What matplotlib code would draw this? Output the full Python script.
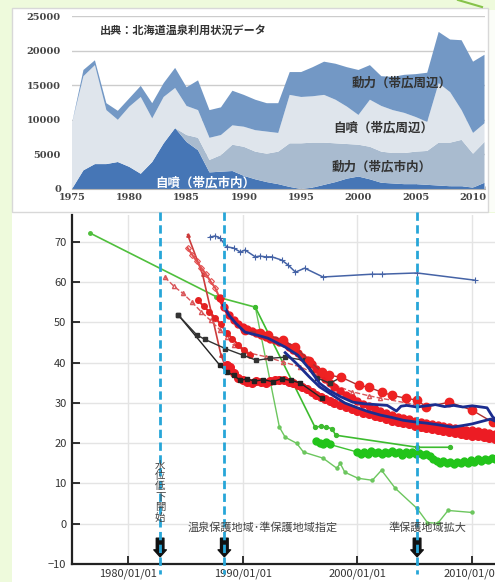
import matplotlib
matplotlib.use('Agg')
import matplotlib.pyplot as plt
from matplotlib.patches import Rectangle
from matplotlib.lines import Line2D

# +------------------------------+
# | Hot spring usage (top chart) |
# +------------------------------+
years = list(range(1975, 2012))
# 自噴（帯広市内）
jifun_city = [0, 2700, 3600, 3600, 3900, 3200, 2200, 3900, 6600, 8800,
              6800, 5600, 2400, 2500, 2600, 1900, 1400, 1000, 700, 300,
              0, 200, 600, 1000, 1500, 1800, 1400, 900, 800, 700,
              700, 600, 500, 400, 400, 200, 900]
# 動力（帯広市内）
douryoku_city = [0, 0, 0, 0, 0, 0, 0, 0, 0, 0,
                 1000, 1800, 1800, 2400, 3800, 4200, 4000, 4100, 4700, 6300,
                 6600, 6500, 6100, 5600, 5000, 4600, 4700, 4500, 4400, 4500,
                 4700, 4900, 6200, 6300, 6700, 4900, 5900]
# 自噴（帯広周辺）
jifun_around = [9500, 13600, 14300, 7800, 6100, 8700, 11100, 6300, 6700, 5800,
                4200, 4000, 3200, 2900, 2800, 2900, 3100, 3200, 2700, 7000,
                6700, 6700, 6900, 6300, 5400, 4300, 6800, 6600, 6200, 5800,
                5000, 4200, 8600, 7300, 4300, 3000, 2700]
# 動力（帯広周辺）
douryoku_around = [0, 900, 700, 1000, 1300, 1200, 1600, 2200, 2000, 2900,
                   2700, 4300, 4000, 4000, 5000, 4600, 4400, 4100, 4300, 3300,
                   3600, 4200, 4800, 5200, 5700, 6500, 5000, 4300, 4800, 5500,
                   6200, 7100, 7400, 7600, 10100, 10300, 9900]
area_labels = ['自噴（帯広市内）', '動力（帯広市内）', '自噴（帯広周辺）', '動力（帯広周辺）']
area_colors = ['#4676b6', '#a9bbcf', '#dfe5ec', '#7398c5']

# +-------------------------------------+
# | Well water levels (bottom chart, m) |
# +-------------------------------------+
# thin steel-blue well
plus_x = [1987.15, 1987.6, 1988.0, 1988.6, 1989.2, 1989.8, 1990.2, 1991.1, 1991.5, 1992.0,
          1992.55, 1993.4, 1993.95, 1994.6, 1995.4, 1997.0, 2001.3, 2002.1, 2005.2, 2010.25]
plus_y = [71.2, 71.5, 71.0, 68.8, 68.5, 67.5, 68.0, 66.3, 66.5, 66.3,
          66.3, 65.5, 64.3, 62.5, 63.5, 61.3, 62.0, 62.0, 62.3, 60.5]

# green wells
g_long_x = [1976.7, 1987.7, 1991.1]
g_long_y = [72.2, 56.4, 53.8]
g_left_x = [1991.1, 1993.2, 1993.7, 1994.7, 1995.3, 1997.0, 1998.2, 1998.5, 1998.9, 2000.05,
            2001.3, 2002.1, 2003.3, 2005.2, 2006.1, 2007.0, 2007.9, 2010.0]
g_left_y = [53.8, 24.0, 21.5, 20.0, 17.8, 16.3, 13.8, 15.0, 12.8, 11.3,
            10.8, 13.3, 8.8, 3.8, 0.3, 0.1, 3.3, 2.8]
g_right_x = [1991.1, 1996.3, 1996.8, 1997.3, 1997.8, 1998.1, 2005.2, 2008.1]
g_right_y = [53.8, 24.0, 24.2, 24.0, 23.6, 22.0, 19.0, 19.0]
g_thick_early_x = [1996.4, 1996.7, 1997.0, 1997.3, 1997.6]
g_thick_early_y = [20.5, 20.0, 19.8, 20.3, 19.7]
g_thick_x = [2000.0, 2000.3, 2000.6, 2000.9, 2001.2, 2001.5, 2001.8, 2002.1, 2002.4, 2002.7,
             2003.0, 2003.3, 2003.6, 2003.9, 2004.2, 2004.5, 2004.8, 2005.1, 2005.4, 2005.7,
             2006.0, 2006.3, 2006.6, 2006.9, 2007.2, 2007.5, 2007.8, 2008.1, 2008.4, 2008.7,
             2009.0, 2009.3, 2009.6, 2009.9, 2010.2, 2010.5, 2010.8, 2011.1, 2011.4, 2011.7,
             2012.0, 2012.3, 2012.6, 2012.9, 2013.2]
g_thick_y = [17.8, 17.3, 17.9, 17.4, 18.0, 17.5, 17.9, 17.3, 17.8, 17.6,
             18.1, 17.5, 17.9, 17.2, 17.7, 17.4, 17.9, 17.3, 17.6, 17.0,
             17.4, 16.8, 16.2, 15.6, 15.2, 15.6, 15.0, 15.4, 14.9, 15.3,
             15.0, 15.6, 15.2, 15.8, 15.4, 16.0, 15.6, 16.2, 15.9, 16.4,
             16.0, 16.5, 16.2, 16.6, 16.3]

# red wells
r_dense_x = [1985.2, 1985.6, 1986.0, 1986.4, 1986.8, 1987.2, 1987.6, 1988.0, 1988.4, 1988.8,
             1989.2, 1989.6, 1990.0, 1990.4, 1990.8, 1991.2, 1991.6, 1992.0, 1992.4, 1992.8,
             1993.2, 1993.6, 1994.0, 1994.4, 1994.8, 1995.2, 1995.6, 1996.0, 1996.4, 1996.8,
             1997.2, 1997.6, 1998.0, 1998.5, 1999.0, 1999.5, 2000.0, 2000.5, 2001.0, 2001.5,
             2002.0, 2002.5, 2003.0, 2003.5, 2004.0, 2004.5, 2005.0, 2005.5, 2006.0, 2006.5,
             2007.0, 2007.5, 2008.0, 2008.5, 2009.0, 2009.5, 2010.0, 2010.5, 2011.0, 2011.5,
             2012.0, 2012.5, 2013.0]
r_dense_y = [68.5, 66.8, 65.2, 63.5, 62.0, 60.2, 58.6, 56.0, 53.8, 51.8,
             50.5, 49.6, 49.0, 48.4, 47.9, 47.4, 47.0, 46.5, 46.0, 45.6,
             45.2, 44.8, 44.0, 43.1, 42.3, 41.5, 40.6, 39.6, 38.5, 37.2,
             36.0, 35.0, 34.0, 33.0, 32.0, 31.2, 30.5, 29.8, 29.2, 28.6,
             28.0, 27.5, 27.0, 26.6, 26.2, 25.9, 25.6, 25.3, 25.1, 24.8,
             24.6, 24.3, 24.1, 23.8, 23.6, 23.4, 23.2, 23.0, 22.8, 22.6,
             22.4, 22.3, 22.2]
r_low_x = [1988.6, 1988.9, 1989.2, 1989.6, 1990.0, 1990.4, 1990.8, 1991.2, 1991.6, 1992.0,
           1992.4, 1992.8, 1993.2, 1993.6, 1994.0, 1994.4, 1994.8, 1995.2, 1995.6, 1996.0,
           1996.4, 1996.8, 1997.2, 1997.6, 1998.0, 1998.5, 1999.0, 1999.5, 2000.0, 2000.5,
           2001.0, 2001.5, 2002.0, 2002.5, 2003.0, 2003.5, 2004.0, 2004.5, 2005.0, 2005.5,
           2006.0, 2006.5, 2007.0, 2007.5, 2008.0, 2008.5, 2009.0, 2009.5, 2010.0, 2010.5,
           2011.0, 2011.5, 2012.0, 2012.5, 2013.0]
r_low_y = [39.5, 38.9, 37.5, 36.2, 35.7, 35.3, 35.0, 35.4, 35.2, 35.0,
           35.4, 35.8, 35.6, 35.8, 35.3, 34.9, 34.4, 34.0, 33.4, 32.7,
           32.0, 31.5, 31.0, 30.5, 30.0, 29.4, 28.9, 28.4, 28.0, 27.6,
           27.2, 26.8, 26.4, 26.0, 25.6, 25.3, 25.0, 24.7, 24.4, 24.1,
           23.8, 23.5, 23.3, 23.0, 22.8, 22.5, 22.3, 22.1, 21.9, 21.7,
           21.5, 21.3, 21.1, 20.9, 20.7]
r_big_x = [1990.2, 1991.5, 1992.2, 1993.5, 1994.6, 1995.8, 1996.9, 1997.5, 1998.6, 2000.1,
           2001.0, 2002.1, 2003.0, 2004.2, 2005.2, 2006.0, 2008.0, 2010.0, 2011.8]
r_big_y = [48.1, 47.3, 46.9, 45.6, 43.9, 40.5, 37.7, 36.9, 36.4, 34.4,
           33.9, 32.7, 31.9, 31.2, 30.7, 29.0, 30.2, 28.2, 25.2]
r_dash_x = [1983.2, 1984.0, 1984.8, 1985.6, 1986.4, 1987.2, 1988.0, 1988.6, 1989.2, 1990.6,
            1992.0, 1993.5, 1995.0, 1996.5, 1998.0, 1999.5, 2001.0, 2002.0, 2004.3, 2005.2]
r_dash_y = [61.3, 59.0, 57.2, 55.0, 52.6, 50.5, 48.2, 46.4, 44.4, 42.4,
            41.5, 40.2, 39.0, 37.0, 34.5, 32.8, 31.8, 31.2, 30.0, 29.5]
r_thin_x = [1985.2, 1986.5, 1988.1, 1988.5]
r_thin_y = [71.8, 62.0, 42.0, 39.0]
r_mid_x = [1986.1, 1986.6, 1987.1, 1987.6, 1988.1, 1988.6, 1989.1, 1989.6, 1990.1, 1990.6]
r_mid_y = [55.6, 54.0, 52.6, 51.2, 49.5, 47.5, 46.0, 44.5, 43.2, 41.9]

# black wells
k1_x = [1984.4, 1988.0, 1988.6, 1989.2, 1989.8, 1990.4, 1991.0, 1991.8, 1992.6, 1993.4,
        1994.2, 1995.0, 1996.9]
k1_y = [51.8, 39.4, 37.8, 36.9, 35.6, 36.0, 35.4, 35.8, 35.3, 36.0,
        35.6, 35.0, 31.2]
k2_x = [1984.4, 1986.0, 1986.7, 1988.5, 1990.0, 1991.2, 1992.4, 1993.7, 1995.4, 1996.5,
        1997.6, 1998.6]
k2_y = [51.8, 46.9, 45.8, 43.5, 41.9, 40.6, 41.1, 41.4, 40.6, 36.2,
        34.9, 36.4]

# navy wells
b1_x = [1988.3, 1988.8, 1989.4, 1990.2, 1991.2, 1992.2, 1993.7, 1994.8, 1995.8, 1996.7,
        1997.5, 1998.5, 1999.6, 2000.6, 2001.6, 2002.6, 2003.4, 2003.8, 2004.3, 2005.2,
        2006.0, 2006.8, 2007.6, 2008.4, 2009.2, 2010.0, 2010.8, 2011.3, 2011.8, 2012.4,
        2013.3]
b1_y = [54.3, 51.8, 49.8, 47.6, 46.9, 46.1, 43.9, 41.9, 38.5, 34.9,
        33.2, 31.6, 30.2, 29.8, 29.6, 29.4, 28.0, 29.2, 29.4, 29.0,
        29.3, 29.6, 29.1, 29.4, 29.0, 29.3, 29.0, 28.8, 26.5, 25.2,
        24.6]
b2_x = [1993.7, 1994.8, 1995.8, 1996.7, 1997.8, 1998.9, 2000.0, 2001.0, 2002.0, 2003.0,
        2004.0, 2005.0, 2006.0, 2007.0, 2008.3, 2009.2, 2010.0, 2010.8, 2011.6, 2012.4,
        2013.3]
b2_y = [42.5, 39.5, 36.5, 34.0, 32.0, 30.0, 28.8, 27.8, 27.0, 26.4,
        25.7, 25.3, 25.0, 24.6, 24.0, 24.4, 24.8, 25.4, 26.0, 25.0,
        24.4]

# policy events
event_years = [1982.8, 1988.4, 2005.2]
decade_ticks = [1980, 1990, 2000, 2010]
decade_labels = ['1980/01/01', '1990/01/01', '2000/01/01', '2010/01/01']

# +--------+
# | Figure |
# +--------+
plt.rcParams['font.family'] = ['Noto Sans CJK JP', 'DejaVu Sans']
W, H = 495, 582
fig = plt.figure(figsize=(W / 100, H / 100), dpi=100, facecolor='#eefadc')


def px_rect(left, top, right, bottom):
    return [left / W, 1 - bottom / H, (right - left) / W, (bottom - top) / H]


# white panels behind both charts
fig.patches.append(Rectangle((12 / W, 0), 1, (H - 213) / H, transform=fig.transFigure,
                             facecolor='white', edgecolor='none', zorder=-2))
fig.patches.append(Rectangle((488 / W, 1 - 212 / H), 1, (212 - 10) / H,
                             transform=fig.transFigure, facecolor='#fbfdf8',
                             edgecolor='none', zorder=-3))
fig.patches.append(Rectangle((12 / W, 1 - 212 / H), (488 - 12) / W, (212 - 8) / H,
                             transform=fig.transFigure, facecolor='white',
                             edgecolor='#d8d8d8', linewidth=1, zorder=-2))
fig.lines.append(Line2D([458 / W, 482 / W], [1.0, 1 - 7 / H], transform=fig.transFigure,
                        color='#86c34a', linewidth=1.5))

## Top: stacked areas
ax1 = fig.add_axes(px_rect(72, 16, 484.5, 189))
ax1.set_facecolor('none')
ax1.stackplot(years, jifun_city, douryoku_city, jifun_around, douryoku_around,
              colors=area_colors, labels=area_labels, linewidth=0, zorder=2)
ax1.set_xlim(1975, 2011)
ax1.set_ylim(0, 25000)
ax1.set_yticks(range(0, 25001, 5000))
ax1.set_xticks(range(1975, 2011, 5))
ax1.set_xticks(range(1975, 2012), minor=True)
ax1.yaxis.grid(True, color='#cccccc', linewidth=1, zorder=1)
ax1.set_axisbelow(True)
for side in ['top', 'right', 'left']:
    ax1.spines[side].set_visible(False)
ax1.spines['bottom'].set_color('#b5b5b5')
ax1.tick_params(axis='y', length=0, pad=8)
ax1.tick_params(axis='x', which='both', direction='in', color='#b5b5b5', pad=3)
ax1.tick_params(axis='x', which='major', length=4)
ax1.tick_params(axis='x', which='minor', length=2.5)
for lab in ax1.get_xticklabels() + ax1.get_yticklabels():
    lab.set_fontfamily('DejaVu Serif')
    lab.set_fontweight('bold')
    lab.set_fontsize(7)
    lab.set_color('#444444')
ax1.text(1977.45, 23000, '出典：北海道温泉利用状況データ', fontsize=8, fontweight='bold',
         color='#333333', va='center', zorder=5)
ax1.text(2003.8, 15300, area_labels[3], fontsize=9, fontweight='bold', color='#333333',
         ha='center', va='center', zorder=5)
ax1.text(2002.2, 8800, area_labels[2], fontsize=9, fontweight='bold', color='#333333',
         ha='center', va='center', zorder=5)
ax1.text(2002.0, 3200, area_labels[1], fontsize=9, fontweight='bold', color='#333333',
         ha='center', va='center', zorder=5)
ax1.text(1986.6, 800, area_labels[0], fontsize=9, fontweight='bold', color='white',
         ha='center', va='center', zorder=5)

## Bottom: well water levels
ax2 = fig.add_axes(px_rect(72, 215, 510, 564))
ax2.set_facecolor('none')
ax2.set_xlim(1975.12, 2013.3)
ax2.set_ylim(-10, 76.7)
ax2.set_yticks(range(-10, 71, 10))
ax2.set_xticks(decade_ticks)
ax2.set_xticklabels(decade_labels)
ax2.grid(True, color='#e4e4e4', linewidth=1)
ax2.set_axisbelow(True)
for side in ['top', 'right']:
    ax2.spines[side].set_visible(False)
for side in ['left', 'bottom']:
    ax2.spines[side].set_linewidth(1.6)
    ax2.spines[side].set_color('#222222')
ax2.tick_params(direction='in', length=6, width=1.3, color='#222222',
                labelsize=8, labelcolor='#333333')
ax2.tick_params(axis='y', pad=4)
ax2.tick_params(axis='x', pad=3)

# blue well with + markers
ax2.plot(plus_x, plus_y, '-', color='#4563a6', linewidth=1.1, marker='+', markersize=5,
         markeredgewidth=0.8, zorder=3)
# green wells
ax2.plot(g_long_x, g_long_y, '-', color='#4fbf3c', linewidth=1.2, marker='o',
         markersize=2.5, zorder=3)
ax2.plot(g_left_x, g_left_y, '-', color='#6cc65e', linewidth=1.0, marker='o',
         markersize=2.2, zorder=3)
ax2.plot(g_right_x, g_right_y, '-', color='#3dbb2f', linewidth=1.2, marker='o',
         markersize=2.8, zorder=3)
ax2.plot([g_thick_early_x[-1], g_thick_x[0]], [g_thick_early_y[-1], g_thick_y[0]], '-',
         color='#3fc233', linewidth=1.0, zorder=3)
ax2.plot(g_thick_early_x, g_thick_early_y, '-', color='#22c41a', linewidth=2.5, marker='o',
         markersize=5, zorder=3)
ax2.plot(g_thick_x, g_thick_y, '-', color='#22c41a', linewidth=3, marker='o',
         markersize=5, zorder=3)
# black wells
ax2.plot(k1_x, k1_y, '-', color='#222222', linewidth=1.0, marker='s', markersize=2.5, zorder=4)
ax2.plot(k2_x, k2_y, '-', color='#333333', linewidth=1.0, marker='s', markersize=2.5, zorder=4)
# red wells
ax2.plot(r_thin_x, r_thin_y, '-', color='#cc3b3b', linewidth=1.2, marker='^',
         markersize=2.5, zorder=3)
ax2.plot(r_dash_x, r_dash_y, '--', color='#d9565a', linewidth=1.0, marker='^',
         markersize=3, markerfacecolor='none', zorder=3)
ax2.plot(r_mid_x, r_mid_y, '-', color='#e32222', linewidth=1.5, marker='o',
         markersize=4, zorder=3)
# the first readings of the dense well are drawn lighter and thinner
ax2.plot(r_dense_x[:8], r_dense_y[:8], '-', color='#e25050', linewidth=1.5, marker='D',
         markersize=3, markerfacecolor='none', markeredgewidth=0.8, zorder=3)
ax2.plot(r_dense_x[7:], r_dense_y[7:], '-', color='#ec1c24', linewidth=3, marker='o',
         markersize=5, zorder=3)
ax2.plot(r_low_x, r_low_y, '-', color='#ec1c24', linewidth=3.5, marker='o',
         markersize=5.5, zorder=3)
ax2.plot(r_big_x, r_big_y, '-', color='#a93030', linewidth=1.0, marker='o',
         markersize=6, markerfacecolor='#ee2222', markeredgecolor='#ee2222', zorder=4)
# navy wells
ax2.plot(b1_x, b1_y, '-', color='#1b2d8f', linewidth=2, zorder=5)
ax2.plot(b2_x, b2_y, '-', color='#1b2d8f', linewidth=2, zorder=5)

# event markers: dashed lines and arrows
for ex in event_years:
    ax2.annotate('', xy=(ex, -8.9), xytext=(ex, -2.9),
                 arrowprops=dict(arrowstyle='simple,head_length=0.5,head_width=0.9,tail_width=0.55',
                                 facecolor='#111111', edgecolor='#111111'),
                 annotation_clip=False, zorder=6)
    ax2.plot([ex, ex], [77.5, -12.6], linestyle=(0, (3, 1.6)), color='#27a6d8',
             linewidth=2, clip_on=False, zorder=7)
ax2.text(event_years[0], 8.0, '水\n位\n低\n下\n開\n始', fontsize=7.5, color='#444444',
         ha='center', va='center', linespacing=1.05, zorder=8)
ax2.text(1985.2, -0.9, '温泉保護地域･準保護地域指定', fontsize=8, color='#444444',
         ha='left', va='center', zorder=8)
ax2.text(2002.7, -0.9, '準保護地域拡大', fontsize=8, color='#444444',
         ha='left', va='center', zorder=8)

fig.savefig('out.png', dpi=100, facecolor=fig.get_facecolor())
